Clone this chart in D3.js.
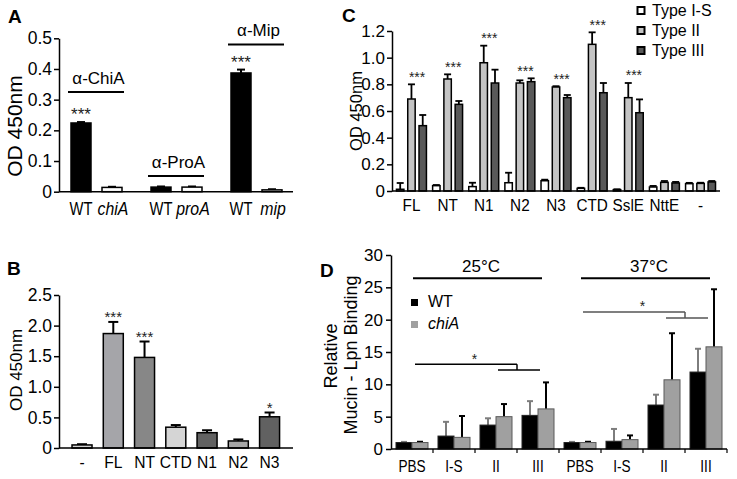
<!DOCTYPE html>
<html><head><meta charset="utf-8">
<script src="https://cdn.jsdelivr.net/npm/d3@7"></script>
<style>body{margin:0;background:#fff}svg{display:block}</style>
</head><body><svg id="c" width="737" height="479"></svg>
<script>
// ---------- Panel A data ----------
const aGroups = ["ChiA", "ProA", "Mip"];
const aWTLabel = ["WT", "WT", "WT"];
const aMutLabel = ["chiA", "proA", "mip"];
const aWT = [0.224, 0.015, 0.387];
const aWTsd = [0.003, 0.002, 0.011];
const aMut = [0.014, 0.015, 0.006];
const aMutSd = [0.002, 0.002, 0.002];
const aStars = ["***", "", "***"];
const aBracketLevel = [0.325, 0.051, 0.48];
const aTicks = [0, 0.1, 0.2, 0.3, 0.4, 0.5];

// ---------- Panel B data ----------
const bCats = ["-", "FL", "NT", "CTD", "N1", "N2", "N3"];
const bVals = [0.05, 1.87, 1.48, 0.34, 0.25, 0.115, 0.51];
const bSd = [0.012, 0.19, 0.26, 0.035, 0.04, 0.025, 0.07];
const bStars = ["", "***", "***", "", "", "", "*"];
const bTicks = [0, 0.5, 1.0, 1.5, 2.0, 2.5];
const bColors = ["#d3d3d3", "#a5a5a9", "#878787", "#d5d5d5", "#626262", "#a7a7a7", "#616161"];

// ---------- Panel C data ----------
const cCats = ["FL", "NT", "N1", "N2", "N3", "CTD", "SslE", "NttE", "-"];
const cTypes = ["Type I-S", "Type II", "Type III"];
const cIS = [0.013, 0.04, 0.033, 0.062, 0.077, 0.02, 0.01, 0.03, 0.055];
const cISsd = [0.047, 0.005, 0.029, 0.075, 0.008, 0.004, 0.003, 0.008, 0.006];
const cII = [0.69, 0.84, 0.962, 0.81, 0.78, 1.10, 0.70, 0.065, 0.057];
const cIIsd = [0.11, 0.035, 0.128, 0.02, 0.006, 0.09, 0.11, 0.01, 0.005];
const cIII = [0.49, 0.65, 0.81, 0.82, 0.70, 0.737, 0.587, 0.06, 0.068];
const cIIIsd = [0.08, 0.025, 0.10, 0.025, 0.02, 0.073, 0.10, 0.008, 0.007];
const cStars = ["***", "***", "***", "***", "***", "***", "***", "", ""];
const cTicks = [0, 0.2, 0.4, 0.6, 0.8, 1.0, 1.2];
const cColors = ["#ffffff", "#c4c4c4", "#595959"];

// ---------- Panel D data ----------
const dCats = ["PBS", "I-S", "II", "III", "PBS", "I-S", "II", "III"];
const dTemps = ["25", "25", "25", "25", "37", "37", "37", "37"];
const dSeries = ["WT", "chiA"];
const dWT = [1.0, 2.0, 3.7, 5.2, 1.0, 1.2, 6.8, 11.9];
const dWTsd = [0.1, 2.2, 1.05, 2.2, 0.1, 1.9, 1.6, 3.6];
const dChiA = [1.0, 1.8, 5.0, 6.2, 1.0, 1.45, 10.7, 15.8];
const dChiAsd = [0.12, 3.3, 1.95, 4.1, 0.12, 0.65, 7.2, 8.9];
const dTicks = [0, 5, 10, 15, 20, 25, 30];
const dTempLabels = ["25°C", "37°C"];
const dTempLevel = 26.4;
const dSigLevels = [[13.1, 12.2, 14.5], [21.2, 20.25, 22.6]];

// ---------- helpers ----------
const FONT = "'Liberation Sans', Arial, Helvetica, sans-serif";
const svg = d3.select("#c");
svg.append("rect").attr("width", 737).attr("height", 479).attr("fill", "#fff");

function text(g, x, y, s, size, o = {}) {
  const t = g.append("text").text(s)
    .attr("font-family", FONT).attr("font-size", size).attr("fill", o.fill || "#000")
    .attr("text-anchor", o.anchor || "middle");
  if (o.bold) t.attr("font-weight", "bold");
  if (o.italic) t.attr("font-style", "italic");
  if (o.rotate) t.attr("x", x).attr("y", y).attr("transform", `rotate(-90,${x},${y})`);
  else if (o.sx) t.attr("x", 0).attr("y", 0).attr("transform", `translate(${x},${y}) scale(${o.sx},1)`);
  else t.attr("x", x).attr("y", y);
  return t;
}
function line(g, x1, y1, x2, y2, color = "#000", w = 1.5) {
  g.append("line").attr("x1", x1).attr("y1", y1).attr("x2", x2).attr("y2", y2)
    .attr("stroke", color).attr("stroke-width", w);
}
function yAxis(g, scale, x, ticks, fmt, size, pad) {
  const ax = g.append("g").attr("transform", `translate(${x},0)`)
    .call(d3.axisLeft(scale).tickValues(ticks).tickFormat(fmt).tickSize(5).tickSizeOuter(0).tickPadding(pad));
  ax.attr("font-family", FONT).attr("font-size", size);
  ax.selectAll("path,line").attr("stroke", "#000").attr("stroke-width", 1.5);
  ax.selectAll("text").attr("fill", "#000");
  return ax;
}
function errBar(g, cx, y0, y1, cap, color = "#000", w = 2) {
  line(g, cx, y0, cx, y1, color, w);
  line(g, cx - cap / 2, y1, cx + cap / 2, y1, color, w);
}
function star(g, cx, cy, s, size) {
  if (!s) return;
  text(g, cx, cy + 0.6 * size, s, size, { fill: "#222" });
}
const f1 = d => d === 0 ? "0" : d3.format(".1f")(d);

// ================= Panel A =================
{
  const g = svg.append("g");
  const y = d3.scaleLinear().domain([0, 0.5]).range([191.7, 38.3]);
  const x0 = d3.scaleBand().domain(aGroups).range([56.5, 296.5]);
  const x1 = d3.scaleBand().domain(["wt", "mut"]).range([14.5, 65.5]).paddingInner(0.355);
  const bw = x1.bandwidth();
  aGroups.forEach((grp, i) => {
    const xw = x0(grp) + x1("wt"), xm = x0(grp) + x1("mut");
    errBar(g, xw + bw / 2, y(aWT[i]), y(aWT[i] + aWTsd[i]), 8);
    errBar(g, xm + bw / 2, y(aMut[i]), y(aMut[i] + aMutSd[i]), 8);
    g.append("rect").attr("x", xw).attr("y", y(aWT[i])).attr("width", bw).attr("height", y(0) - y(aWT[i]))
      .attr("fill", "#000").attr("stroke", "#000").attr("stroke-width", 1.5);
    g.append("rect").attr("x", xm).attr("y", y(aMut[i])).attr("width", bw).attr("height", y(0) - y(aMut[i]))
      .attr("fill", "#fff").attr("stroke", "#000").attr("stroke-width", 1.5);
    star(g, xw + bw / 2, y(aWT[i] + aWTsd[i]) - 12, aStars[i], 17);
    const ly = y(aBracketLevel[i]);
    line(g, xw - 3, ly, xm + bw + 2, ly, "#000", 2);
    text(g, (xw + xm + bw) / 2 + 2, ly - 8, "α-" + grp, 17);
    text(g, xw + bw / 2, 215, aWTLabel[i], 18, { sx: 0.82 });
    text(g, xm + bw / 2 + 1, 215, aMutLabel[i], 18, { italic: true, sx: 0.88 });
  });
  line(g, 59, y(0), 293, y(0), "#000", 1.5);
  yAxis(g, y, 59, aTicks, f1, 17.5, 2);
  text(g, 22, 126, "OD 450nm", 21, { rotate: true });
  text(g, 8, 23, "A", 19, { bold: true, anchor: "start" });
}

// ================= Panel B =================
{
  const g = svg.append("g");
  const y = d3.scaleLinear().domain([0, 2.5]).range([448, 295]);
  const x = d3.scaleBand().domain(bCats).range([66.4, 285.2]).paddingInner(0.36).paddingOuter(0.18);
  const bw = x.bandwidth();
  bCats.forEach((c, i) => {
    errBar(g, x(c) + bw / 2, y(bVals[i]), y(bVals[i] + bSd[i]), 10);
    g.append("rect").attr("x", x(c)).attr("y", y(bVals[i])).attr("width", bw).attr("height", y(0) - y(bVals[i]))
      .attr("fill", bColors[i]).attr("stroke", "#000").attr("stroke-width", 1.5);
    star(g, x(c) + bw / 2, y(bVals[i] + bSd[i]) - 9, bStars[i], 15);
    text(g, x(c) + bw / 2, 468, c, 17, { sx: 0.92 });
  });
  line(g, 59, y(0), 293, y(0), "#000", 1.5);
  yAxis(g, y, 59, bTicks, f1, 17.5, 2);
  text(g, 22, 370, "OD 450nm", 17, { rotate: true });
  text(g, 7, 275, "B", 19, { bold: true, anchor: "start" });
}

// ================= Panel C =================
{
  const g = svg.append("g");
  const y = d3.scaleLinear().domain([0, 1.2]).range([191, 31]);
  const x0 = d3.scaleBand().domain(cCats).range([392, 720]).paddingInner(0.171).paddingOuter(0.124);
  const x1 = d3.scaleBand().domain(cTypes).range([0, x0.bandwidth()]).paddingInner(0.34);
  const bw = x1.bandwidth();
  const series = [[cIS, cISsd], [cII, cIIsd], [cIII, cIIIsd]];
  cCats.forEach((c, i) => {
    let top = 0;
    cTypes.forEach((t, k) => {
      const v = series[k][0][i], sd = series[k][1][i];
      const bx = x0(c) + x1(t);
      errBar(g, bx + bw / 2, y(v), y(v + sd), 7, "#000", 1.8);
      g.append("rect").attr("x", bx).attr("y", y(v)).attr("width", bw).attr("height", y(0) - y(v))
        .attr("fill", cColors[k]).attr("stroke", "#000").attr("stroke-width", 1.5);
      if (k > 0) top = Math.max(top, v + sd);
    });
    const sx = x0(c) + (x1("Type II") + x1("Type III") + bw) / 2;
    star(g, sx, y(top) - 11, cStars[i], 14);
    text(g, x0(c) + x0.bandwidth() / 2, 211, c, 17, { sx: 0.9 });
  });
  line(g, 392, y(0), 720, y(0), "#000", 1.5);
  yAxis(g, y, 392, cTicks, f1, 17, 2);
  text(g, 362, 111, "OD 450nm", 16.5, { rotate: true });
  text(g, 342, 22, "C", 19, { bold: true, anchor: "start" });
  // legend
  cTypes.forEach((t, k) => {
    g.append("rect").attr("x", 637.5).attr("y", 7 + k * 20).attr("width", 7).attr("height", 7)
      .attr("fill", cColors[k]).attr("stroke", "#000").attr("stroke-width", 2);
    text(g, 652, 16 + k * 20, t, 16, { anchor: "start" });
  });
}

// ================= Panel D =================
{
  const g = svg.append("g");
  const y = d3.scaleLinear().domain([0, 30]).range([449, 255]);
  const keys = dCats.map((c, i) => c + "|" + dTemps[i]);
  const x0 = d3.scaleBand().domain(keys).range([391, 727]).paddingInner(0.238).paddingOuter(0.119);
  const x1 = d3.scaleBand().domain(dSeries).range([0, x0.bandwidth()]);
  const bw = x1.bandwidth();
  const center = k => x0(k) + x0.bandwidth() / 2;
  keys.forEach((k, i) => {
    const xw = x0(k) + x1("WT"), xc = x0(k) + x1("chiA");
    errBar(g, xw + bw / 2, y(dWT[i]), y(dWT[i] + dWTsd[i]), 6, "#7d7d7d", 2);
    errBar(g, xc + bw / 2, y(dChiA[i]), y(dChiA[i] + dChiAsd[i]), 6, "#000", 2);
    g.append("rect").attr("x", xw).attr("y", y(dWT[i])).attr("width", bw).attr("height", y(0) - y(dWT[i]))
      .attr("fill", "#000").attr("stroke", "#222").attr("stroke-width", 1);
    g.append("rect").attr("x", xc).attr("y", y(dChiA[i])).attr("width", bw).attr("height", y(0) - y(dChiA[i]))
      .attr("fill", "#a0a0a0").attr("stroke", "#5a5a5a").attr("stroke-width", 1);
    text(g, center(k), 472, dCats[i], 17, { sx: 0.8 });
    const bx = x0(k) + x0.step() * (1 - x0.paddingInner() / 2);
    line(g, bx, y(0), bx, y(0) + 4, "#000", 1.2);
  });
  line(g, 391, y(0), 727, y(0), "#000", 1.5);
  yAxis(g, y, 391, dTicks, d3.format("d"), 17, 3);
  [0, 1].forEach(t => {
    const kP = keys[t * 4], kII = keys[t * 4 + 2], kIII = keys[t * 4 + 3];
    const ly = y(dTempLevel);
    line(g, center(kP) + 1, ly, center(kIII) + 4, ly, "#000", 2);
    text(g, (center(kP) + center(kIII)) / 2 + 6, 272, dTempLabels[t], 17);
    const col = t === 0 ? "#000" : "#555";
    const [up, low, st] = dSigLevels[t];
    const mid = (center(kII) + center(kIII)) / 2;
    line(g, center(kP) + 3, y(up), mid, y(up), col, 1.5);
    line(g, mid, y(up), mid, y(low), col, 1.5);
    line(g, center(kII) + 2, y(low), center(kIII) + 2, y(low), col, 1.5);
    star(g, (center(kP) + mid) / 2 + 10, y(st), "*", 14);
  });
  dSeries.forEach((s, k) => {
    g.append("rect").attr("x", 411).attr("y", 299 + k * 22).attr("width", 7).attr("height", 7)
      .attr("fill", k === 0 ? "#000" : "#a0a0a0");
    text(g, 428, 307 + k * 22, s, 16, { anchor: "start", italic: k === 1 });
  });
  text(g, 337, 356, "Relative", 18, { rotate: true });
  text(g, 357, 355, "Mucin - Lpn Binding", 18, { rotate: true });
  text(g, 320, 277, "D", 19, { bold: true, anchor: "start" });
}
</script></body></html>
